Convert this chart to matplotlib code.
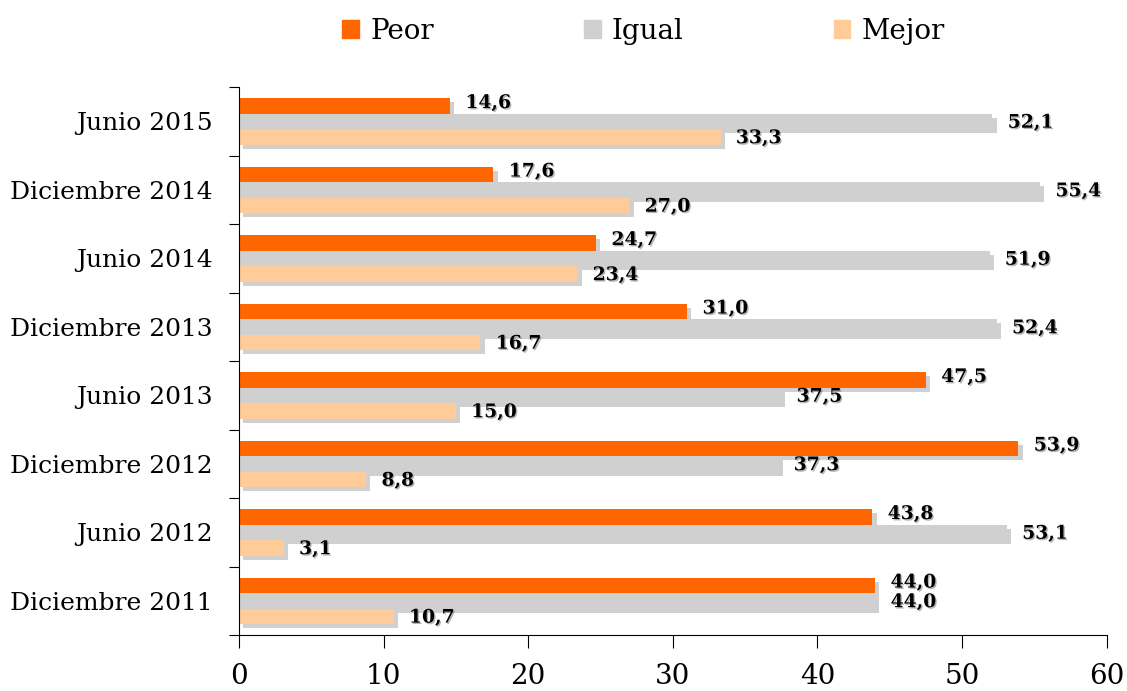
import matplotlib
matplotlib.use("Agg")
import matplotlib.pyplot as plt
import matplotlib.patheffects as pe
from matplotlib.patches import Patch
import numpy as np

# data (top to bottom as in the chart)
periodos = ['Junio 2015', 'Diciembre 2014', 'Junio 2014', 'Diciembre 2013',
            'Junio 2013', 'Diciembre 2012', 'Junio 2012', 'Diciembre 2011']
peor = [14.6, 17.6, 24.7, 31.0, 47.5, 53.9, 43.8, 44.0]
igual = [52.1, 55.4, 51.9, 52.4, 37.5, 37.3, 53.1, 44.0]
mejor = [33.3, 27.0, 23.4, 16.7, 15.0, 8.8, 3.1, 10.7]

series = [('Peor', peor, '#FF6600'), ('Igual', igual, '#D0D0D0'), ('Mejor', mejor, '#FFCC99')]

plt.rcParams['font.family'] = ['DejaVu Serif']

fig = plt.figure(figsize=(11.27, 6.91), dpi=100)
ax = fig.add_axes([0.212, 0.081, 0.770, 0.793])

y = np.arange(len(periodos))
h = 0.226
bar_shadow = [pe.SimplePatchShadow(offset=(3, -3), shadow_rgbFace='#666666', alpha=0.3), pe.Normal()]
txt_shadow = [pe.withSimplePatchShadow(offset=(1, -1), shadow_rgbFace='#777777', alpha=0.55)]
dy = [2, -1, -1]   # small vertical nudge of the value labels, in points

for k, (name, vals, col) in enumerate(series):
    pos = y + (k - 1) * h
    bars = ax.barh(pos, vals, height=h, color=col, label=name, zorder=2)
    for b in bars:
        b.set_path_effects(bar_shadow)
    for p, v in zip(pos, vals):
        ax.annotate(f'{v:.1f}'.replace('.', ','), (v, p), xytext=(11, dy[k]),
                    textcoords='offset points', va='center', ha='left',
                    fontsize=13.5, fontweight='bold', color='black',
                    path_effects=txt_shadow, zorder=3)

ax.set_xlim(0, 60)
ax.set_ylim(len(periodos) - 0.5, -0.5)
ax.set_xticks(range(0, 61, 10))
ax.tick_params(axis='x', labelsize=20, direction='out', length=9, pad=11)

ax.set_yticks(np.arange(-0.5, len(periodos), 1))
ax.set_yticklabels([])
ax.set_yticks(y, minor=True)
ax.set_yticklabels(periodos, minor=True)
ax.tick_params(axis='y', which='major', direction='out', length=7)
ax.tick_params(axis='y', which='minor', length=0, labelsize=18, pad=19)

for s in ['top', 'right']:
    ax.spines[s].set_visible(False)

handles = [Patch(color=c, label=n) for n, _, c in series]
fig.legend(handles=handles, loc='upper center', bbox_to_anchor=(0.571, 1.01), ncol=3,
           frameon=False, fontsize=20, handlelength=0.6, handleheight=0.6,
           handletextpad=0.4, columnspacing=5.4)

fig.savefig('out.png', dpi=100)
